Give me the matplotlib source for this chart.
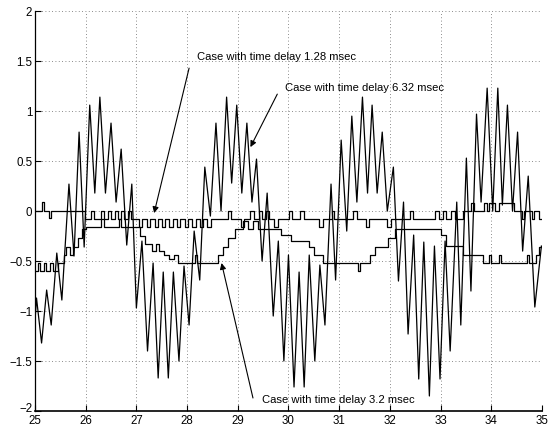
import numpy as np
import matplotlib
matplotlib.use("Agg")
import matplotlib.pyplot as plt
from matplotlib.transforms import ScaledTranslation

plt.rcParams['font.family'] = ['Liberation Sans', 'DejaVu Sans']

# oscillating response, delay 6.32 msec (local extrema)
t_632 = [25.00, 25.03, 25.13, 25.23, 25.32, 25.43, 25.53, 25.67, 25.77, 25.87,
         25.97, 26.08, 26.18, 26.28, 26.39, 26.50, 26.60, 26.70, 26.81, 26.91,
         27.00, 27.11, 27.22, 27.33, 27.43, 27.53, 27.63, 27.73, 27.84, 27.94,
         28.04, 28.14, 28.25, 28.35, 28.46, 28.57, 28.67, 28.78, 28.88, 28.98,
         29.08, 29.18, 29.28, 29.37, 29.48, 29.58, 29.70, 29.80, 29.91, 30.00,
         30.11, 30.21, 30.31, 30.41, 30.52, 30.62, 30.72, 30.84, 30.93, 31.04,
         31.15, 31.25, 31.35, 31.46, 31.56, 31.65, 31.75, 31.85, 31.95, 32.07,
         32.17, 32.27, 32.36, 32.47, 32.57, 32.67, 32.78, 32.88, 32.99, 33.09,
         33.19, 33.32, 33.40, 33.51, 33.60, 33.71, 33.80, 33.92, 34.03, 34.13,
         34.22, 34.32, 34.42, 34.52, 34.62, 34.73, 34.86, 34.99]
y_632 = [-1.10, -0.87, -1.32, -0.79, -1.14, -0.42, -0.89, 0.27, -0.45, 0.79,
         -0.36, 1.06, 0.18, 1.14, 0.18, 0.88, 0.09, 0.62, -0.34, 0.27,
         -0.97, -0.30, -1.40, -0.52, -1.67, -0.61, -1.67, -0.61, -1.50, -0.55,
         -1.14, -0.20, -0.69, 0.44, -0.05, 0.88, 0.00, 1.14, 0.28, 1.06,
         0.18, 0.88, 0.09, 0.52, -0.50, 0.18, -1.05, -0.30, -1.50, -0.44,
         -1.76, -0.61, -1.76, -0.44, -1.50, -0.54, -1.14, 0.27, -0.69, 0.71,
         -0.20, 0.95, 0.09, 1.14, 0.18, 1.06, 0.18, 0.79, 0.00, 0.44,
         -0.70, 0.09, -1.23, -0.24, -1.68, -0.31, -1.85, -0.35, -1.68, -0.30,
         -1.40, 0.09, -1.14, 0.53, -0.80, 0.97, 0.09, 1.23, 0.00, 1.23,
         0.06, 1.06, 0.00, 0.79, -0.40, 0.35, -0.96, -0.35]

# quantized response, delay 1.28 msec (change points)
t_128 = [25.00, 25.13, 25.17, 25.28, 25.32, 25.98,
         26.10, 26.17, 26.30, 26.36, 26.44, 26.50, 26.57, 26.63, 26.70, 26.76, 26.84, 26.90,
         27.05, 27.12, 27.20, 27.27, 27.36, 27.43, 27.50, 27.57, 27.65, 27.72, 27.80, 27.87,
         27.95, 28.02, 28.10, 28.17, 28.25, 28.32, 28.40, 28.47,
         28.80, 28.86, 29.07, 29.12, 29.25, 29.32, 29.42, 29.48, 29.55, 29.62, 29.72, 29.80,
         30.02, 30.07, 30.22, 30.30, 30.60, 30.68, 30.85, 30.90, 31.28, 31.35, 31.52, 31.58,
         31.95, 32.02, 32.40, 32.45, 32.90, 32.97, 33.05, 33.10, 33.20, 33.28, 33.45,
         33.60, 33.66, 33.85, 33.92, 33.95, 34.07, 34.16, 34.45,
         34.60, 34.65, 34.80, 34.85, 34.95, 35.00]
y_128 = [0.00, 0.09, 0.00, -0.07, 0.00, -0.08,
         0.00, -0.08, 0.00, -0.08, 0.00, -0.08, 0.00, -0.08, 0.00, -0.08, 0.00, -0.08,
         -0.16, -0.08, -0.16, -0.08, -0.16, -0.08, -0.16, -0.08, -0.16, -0.08, -0.16, -0.08,
         -0.16, -0.08, -0.16, -0.08, -0.16, -0.08, -0.16, -0.08,
         0.00, -0.08, -0.16, -0.08, 0.00, -0.08, 0.00, -0.08, 0.00, -0.08, -0.16, -0.08,
         0.00, -0.08, 0.00, -0.08, -0.16, -0.08, 0.00, -0.08, 0.00, -0.08, -0.16, -0.08,
         -0.16, -0.08, 0.00, -0.08, 0.00, -0.08, 0.00, -0.08, 0.00, -0.08, 0.00,
         0.08, 0.00, 0.08, 0.00, 0.08, 0.00, 0.08, 0.00,
         -0.08, 0.00, -0.08, 0.00, -0.08, -0.08]

# quantized response, delay 3.2 msec (change points)
t_32 = [25.00, 25.05, 25.10, 25.17, 25.22, 25.30, 25.35, 25.45, 25.57, 25.62,
        25.70, 25.75, 25.85, 25.92, 26.00, 26.30, 26.36, 26.65, 26.70,
        27.08, 27.18, 27.30, 27.38, 27.45, 27.55, 27.65, 27.75, 27.82, 28.15, 28.20,
        28.62, 28.70, 28.80, 28.95, 29.10, 29.20, 29.30, 29.40, 29.86, 30.05,
        30.40, 30.50, 30.69, 31.38, 31.42, 31.61, 31.71, 31.97, 32.10,
        33.00, 33.10, 33.45, 33.84, 33.95, 34.00, 34.15, 34.20, 34.70, 34.75,
        34.88, 34.95, 35.00]
y_32 = [-0.60, -0.52, -0.60, -0.52, -0.60, -0.52, -0.60, -0.52, -0.44, -0.36,
        -0.44, -0.36, -0.27, -0.18, -0.16, -0.08, -0.16, -0.08, -0.16,
        -0.25, -0.33, -0.40, -0.33, -0.40, -0.44, -0.48, -0.44, -0.52, -0.44, -0.52,
        -0.44, -0.36, -0.27, -0.18, -0.10, -0.18, -0.10, -0.18, -0.24, -0.30,
        -0.36, -0.44, -0.52, -0.60, -0.52, -0.44, -0.36, -0.27, -0.18,
        -0.24, -0.35, -0.44, -0.52, -0.44, -0.52, -0.44, -0.52, -0.44, -0.52,
        -0.44, -0.36, -0.36]

xticks = np.arange(25, 36, 1)
yticks = [-2, -1.5, -1, -0.5, 0, 0.5, 1, 1.5, 2]
yticklabels = ['\u22122', '\u22121.5', '\u22121', '\u22120.5', '0', '0.5', '1', '1.5', '2']


fig = plt.figure(figsize=(5.51, 4.29), dpi=100)
ax = fig.add_axes([0.0635, 0.042, 0.920, 0.932])

ax.plot(t_632, y_632, color='k', lw=0.9)
ax.plot(t_128, y_128, color='k', lw=0.9, drawstyle='steps-post')
ax.plot(t_32, y_32, color='k', lw=0.9, drawstyle='steps-post')

ax.set_xlim(25, 35)
ax.set_ylim(-2, 2)
ax.set_xticks(xticks)
ax.set_yticks(yticks)
ax.set_yticklabels(yticklabels)
ax.tick_params(direction='in', length=4, width=0.8, labelsize=8.3, pad=2)
ax.tick_params(axis='x', pad=3)
ax.grid(True, color='#666666', linestyle=(0, (1, 3)), lw=0.6)
for s in ['top', 'right']:
    ax.spines[s].set_visible(False)
ax.spines['left'].set_linewidth(0.9)
ax.spines['bottom'].set_linewidth(1.2)

# lift the bottom y label a little so it clears the "25"
lab = ax.get_yticklabels()[0]
lab.set_transform(lab.get_transform() + ScaledTranslation(0, 2.5 / 72, fig.dpi_scale_trans))

arrow = dict(arrowstyle='-|>', color='k', lw=0.8, mutation_scale=9, shrinkA=0, shrinkB=0)
fs = 8.1
ax.text(28.2, 1.54, 'Case with time delay 1.28 msec', fontsize=fs, va='center')
ax.annotate('', xy=(27.35, -0.02), xytext=(28.04, 1.43), arrowprops=arrow)
ax.text(29.93, 1.23, 'Case with time delay 6.32 msec', fontsize=fs, va='center')
ax.annotate('', xy=(29.25, 0.64), xytext=(29.78, 1.17), arrowprops=arrow)
ax.text(29.47, -1.89, 'Case with time delay 3.2 msec', fontsize=fs, va='center')
ax.annotate('', xy=(28.68, -0.52), xytext=(29.30, -1.87), arrowprops=arrow)

fig.savefig('out.png', dpi=100)
